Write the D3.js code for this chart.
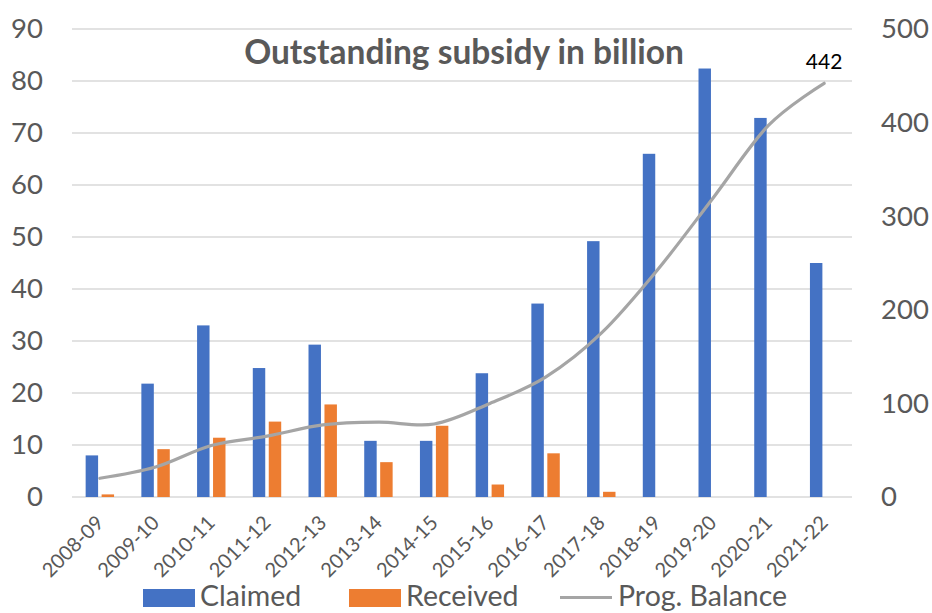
<!DOCTYPE html>
<html>
<head>
<meta charset="utf-8">
<script src="https://cdn.jsdelivr.net/npm/d3@7"></script>
<style>
  html, body { margin: 0; padding: 0; background: #fff; }
  svg { display: block; }
  text { font-family: Lato, "Open Sans", sans-serif; }
</style>
</head>
<body>
<svg id="chart" width="932" height="613"></svg>
<script>
// Fiscal years on the category axis
const years = ["2008-09", "2009-10", "2010-11", "2011-12", "2012-13", "2013-14", "2014-15",
               "2015-16", "2016-17", "2017-18", "2018-19", "2019-20", "2020-21", "2021-22"];
// Subsidy claimed per year (billion, left axis)
const claimed  = [8.0, 21.8, 33.0, 24.8, 29.3, 10.8, 10.8, 23.8, 37.2, 49.2, 66.0, 82.4, 72.9, 45.0];
// Subsidy received per year (billion, left axis)
const received = [0.5, 9.2, 11.4, 14.5, 17.8, 6.7, 13.7, 2.4, 8.4, 1.0, 0, 0, 0, 0];
// Progressive outstanding balance (billion, right axis)
const progBalance = [20, 32, 55, 65, 77, 80, 78, 100, 128, 175, 242, 319, 397, 442];
// Axis ticks
const leftTicks  = [0, 10, 20, 30, 40, 50, 60, 70, 80, 90];
const rightTicks = [0, 100, 200, 300, 400, 500];

const colors = { claimed: "#4472C4", received: "#ED7D31", balance: "#A5A5A5" };
const textGrey = "#595959";

const svg = d3.select("#chart");
const plot = { left: 72, right: 852, top: 29, bottom: 497 };

const x = d3.scaleBand().domain(years).range([plot.left, plot.right]).paddingInner(0).paddingOuter(0);
const yL = d3.scaleLinear().domain([0, 90]).range([plot.bottom, plot.top]);
const yR = d3.scaleLinear().domain([0, 500]).range([plot.bottom, plot.top]);

const groupHalf = x.bandwidth() * 0.255;
const xSub = d3.scaleBand().domain(["claimed", "received"])
  .range([-groupHalf, groupHalf]).paddingInner(0.22).paddingOuter(0);

// Horizontal gridlines
svg.append("g").selectAll("line").data(leftTicks).join("line")
  .attr("x1", plot.left).attr("x2", plot.right)
  .attr("y1", d => yL(d)).attr("y2", d => yL(d))
  .attr("stroke", "#D9D9D9").attr("stroke-width", 1.3);

// Left axis labels
const leftAxis = d3.axisLeft(yL).tickValues(leftTicks).tickSize(0).tickPadding(0);
const gL = svg.append("g").attr("transform", "translate(43,0)").call(leftAxis);
gL.select(".domain").remove();
gL.selectAll("text").attr("fill", textGrey).attr("font-size", 27.5).attr("font-family", "Lato, sans-serif");

// Right axis labels
const rightAxis = d3.axisRight(yR).tickValues(rightTicks).tickSize(0).tickPadding(0);
const gR = svg.append("g").attr("transform", "translate(881,0)").call(rightAxis);
gR.select(".domain").remove();
gR.selectAll("text").attr("fill", textGrey).attr("font-size", 27.5).attr("font-family", "Lato, sans-serif");

// Bars
const series = [
  { key: "claimed", values: claimed },
  { key: "received", values: received }
];
series.forEach(s => {
  svg.append("g").selectAll("rect").data(years.filter((y, i) => s.values[i] > 0)).join("rect")
    .attr("x", d => x(d) + x.bandwidth() / 2 + xSub(s.key))
    .attr("width", xSub.bandwidth())
    .attr("y", d => yL(s.values[years.indexOf(d)]))
    .attr("height", d => yL(0) - yL(s.values[years.indexOf(d)]))
    .attr("fill", colors[s.key]);
});

// Progressive balance line (uniform Catmull-Rom smoothing)
const line = d3.line()
  .x((d, i) => x(years[i]) + x.bandwidth() / 2)
  .y(d => yR(d))
  .curve(d3.curveCardinal.tension(0));
svg.append("path").datum(progBalance)
  .attr("d", line)
  .attr("fill", "none")
  .attr("stroke", colors.balance)
  .attr("stroke-width", 3.2)
  .attr("stroke-linejoin", "round")
  .attr("stroke-linecap", "round");

// Label on the final balance point
const lastIdx = progBalance.length - 1;
svg.append("text")
  .attr("x", x(years[lastIdx]) + x.bandwidth() / 2)
  .attr("y", yR(progBalance[lastIdx]) - 14)
  .attr("text-anchor", "middle")
  .attr("font-size", 21)
  .attr("fill", "#000")
  .text(progBalance[lastIdx]);

// Category labels, rotated
svg.append("g").selectAll("text").data(years).join("text")
  .attr("transform", d => `translate(${x(d) + x.bandwidth() / 2 + 5},${plot.bottom + 27}) rotate(-45)`)
  .attr("text-anchor", "end")
  .attr("font-size", 20)
  .attr("fill", textGrey)
  .text(d => d);

// Title
svg.append("text")
  .attr("x", 464).attr("y", 64)
  .attr("text-anchor", "middle")
  .attr("font-size", 33.5)
  .attr("font-weight", "bold")
  .attr("fill", textGrey)
  .text("Outstanding subsidy in billion");

// Legend
const legend = svg.append("g");
legend.append("rect").attr("x", 143).attr("y", 589).attr("width", 52).attr("height", 18).attr("fill", colors.claimed);
legend.append("text").attr("x", 200).attr("y", 606).attr("font-size", 28.5).attr("fill", textGrey).text("Claimed");
legend.append("rect").attr("x", 349).attr("y", 589).attr("width", 52).attr("height", 18).attr("fill", colors.received);
legend.append("text").attr("x", 406).attr("y", 606).attr("font-size", 28.5).attr("fill", textGrey).text("Received");
legend.append("line").attr("x1", 560).attr("x2", 612).attr("y1", 597.5).attr("y2", 597.5)
  .attr("stroke", colors.balance).attr("stroke-width", 3.2);
legend.append("text").attr("x", 618).attr("y", 606).attr("font-size", 28.5).attr("fill", textGrey).text("Prog. Balance");
</script>
</body>
</html>
